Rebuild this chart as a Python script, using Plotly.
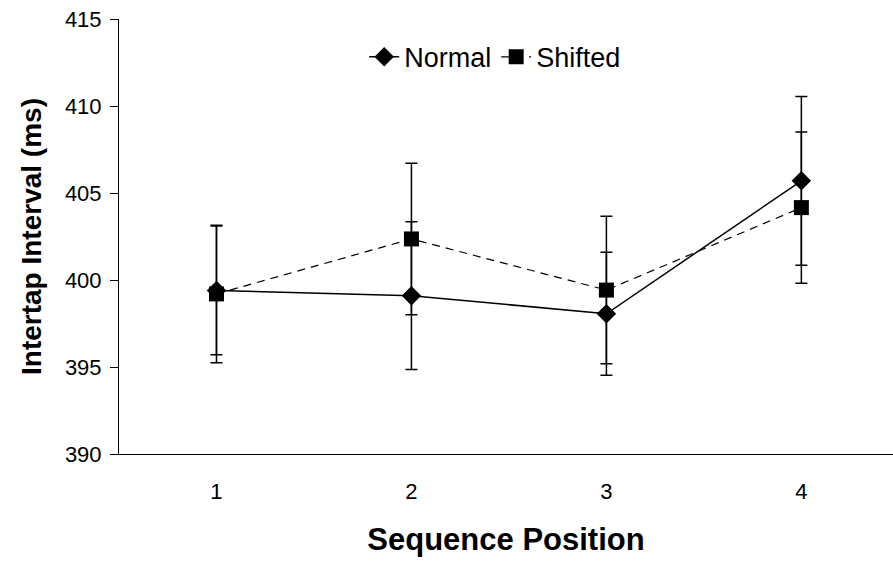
import plotly.graph_objects as go

positions = [1, 2, 3, 4]
tick_labels = ["1", "2", "3", "4"]
normal_mean = [399.4, 399.1, 398.06, 405.7]
normal_err = [3.7, 4.25, 3.53, 4.85]
shifted_mean = [399.2, 402.36, 399.42, 404.16]
shifted_err = [3.95, 4.35, 4.24, 4.35]

FONT = "Liberation Sans, Arial, sans-serif"

fig = go.Figure()
fig.add_trace(go.Scatter(
    x=positions, y=normal_mean, name="Normal", mode="lines+markers",
    line=dict(color="black", width=1.5),
    marker=dict(symbol="diamond", size=15, color="black"),
    error_y=dict(type="data", array=normal_err, visible=True, color="black", thickness=1.5, width=6),
))
fig.add_trace(go.Scatter(
    x=positions, y=shifted_mean, name="Shifted", mode="lines+markers",
    line=dict(color="black", width=1.2, dash="8px,6px"),
    marker=dict(symbol="square", size=15, color="black"),
    error_y=dict(type="data", array=shifted_err, visible=True, color="black", thickness=1.5, width=6),
))

fig.update_layout(
    width=893, height=563,
    margin=dict(l=119, r=0, t=19, b=109),
    paper_bgcolor="white", plot_bgcolor="white",
    font=dict(family=FONT, color="black", size=22),
    showlegend=True,
    legend=dict(orientation="h", x=0.486, y=0.912, xanchor="center", yanchor="middle",
                font=dict(size=27), bgcolor="rgba(0,0,0,0)"),
    xaxis=dict(range=[0.5, 4.47], tickmode="array", tickvals=positions, ticktext=tick_labels,
               showline=True, linecolor="black", linewidth=1, showgrid=False, zeroline=False,
               ticks="", ticklabelstandoff=18, tickfont=dict(size=22),
               title=dict(text="<b>Sequence Position</b>", font=dict(size=31), standoff=24)),
    yaxis=dict(range=[390, 415], tickmode="array", tickvals=[390, 395, 400, 405, 410, 415],
               showline=True, linecolor="black", linewidth=1, showgrid=False, zeroline=False,
               ticks="outside", ticklen=8, tickcolor="black", tickfont=dict(size=22),
               ticklabelstandoff=4,
               title=dict(text="<b>Intertap Interval (ms)</b>", font=dict(size=28), standoff=15)),
)

fig.write_html("out.html")
